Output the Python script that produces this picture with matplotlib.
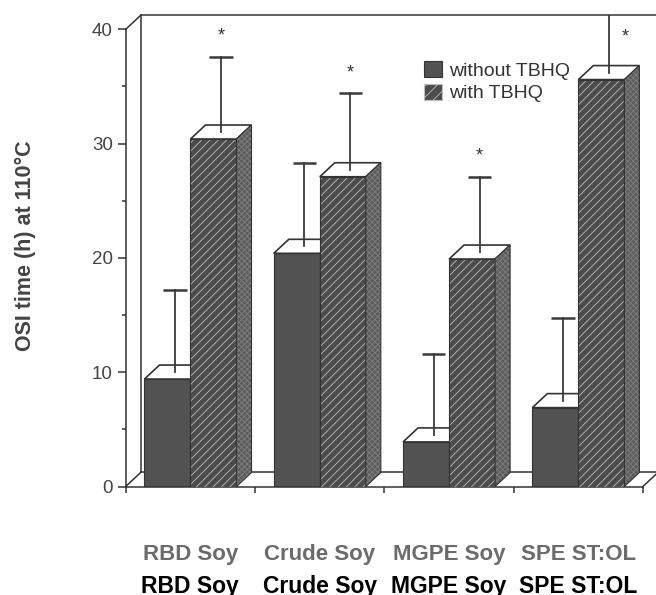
import matplotlib
matplotlib.use("Agg")
import matplotlib.pyplot as plt
from matplotlib.patches import Rectangle, Polygon, Patch

# ---------------------------------------------------------------------------
# DATA
# ---------------------------------------------------------------------------
categories = ["RBD Soy", "Crude Soy", "MGPE Soy", "SPE ST:OL"]
without_tbhq = [9.4, 20.4, 3.9, 6.9]
with_tbhq = [30.4, 27.1, 19.9, 35.6]
err_without = [7.2, 7.3, 7.1, 7.2]
err_with = [6.6, 6.7, 6.6, 7.5]
significant = [True, True, True, True]
series_names = ["without TBHQ", "with TBHQ"]
y_ticks = [0, 10, 20, 30, 40]

# ---------------------------------------------------------------------------
# STYLE
# ---------------------------------------------------------------------------
plt.rcParams["font.family"] = ["Liberation Sans", "DejaVu Sans"]
plt.rcParams["hatch.linewidth"] = 0.6

LINE = "#333333"
DARK = "#525252"
HATCH_BG = "#4c4c4c"
HATCH_FG = "#bdbdbd"
SIDE_BG = "#5c5c5c"
SIDE_FG = "#7e7e7e"

W = 0.356      # bar width (category units)
OFF = 0.145    # offset of first bar inside a category
DX = 0.116     # 3D depth, x
DY = 1.225     # 3D depth, y
Y_TOP = 40 + DY + 0.06

fig = plt.figure(figsize=(6.56, 5.95), dpi=100)
ax = fig.add_axes([125.7 / 656, 108.5 / 595, 530.3 / 656, Y_TOP * 11.43 / 595])
ax.set_xlim(0, 530.3 / 129.3)
ax.set_ylim(0, Y_TOP)

# axes / spines
for s in ["top", "right"]:
    ax.spines[s].set_visible(False)
ax.spines["left"].set_bounds(0, 40)
ax.spines["bottom"].set_bounds(0, len(categories))
for s in ["left", "bottom"]:
    ax.spines[s].set_color(LINE)
    ax.spines[s].set_linewidth(1.1)
ax.set_yticks(y_ticks)
ax.set_yticks([5, 15, 25, 35], minor=True)
ax.set_xticks(range(len(categories) + 1))
ax.tick_params(axis="y", which="major", length=5.8, width=1.1, color=LINE,
               pad=3.5, labelsize=13.5, labelcolor="#444444")
ax.tick_params(axis="y", which="minor", length=3, width=1.1, color=LINE)
ax.tick_params(axis="x", length=4.3, width=1.1, color=LINE, labelbottom=False)

# back wall and floor outline
n = len(categories)
kw = dict(color=LINE, lw=1.1, clip_on=False, zorder=1)
ax.plot([0, DX], [40, 40 + DY], **kw)
ax.plot([DX, 10], [40 + DY, 40 + DY], **kw)
ax.plot([DX, DX], [DY, 40 + DY], **kw)
ax.plot([0, DX], [0, DY], **kw)
ax.plot([DX, n + DX], [DY, DY], **kw)
ax.plot([n, n + DX], [0, DY], **kw)


def draw_top(x, v):
    ax.add_patch(Polygon([(x, v), (x + W, v), (x + W + DX, v + DY), (x + DX, v + DY)],
                         closed=True, fc="white", ec=LINE, lw=1.2, zorder=3))


def draw_err(x, v, e):
    xe = x + W / 2 + DX / 2
    y0 = v + DY / 2
    ax.plot([xe, xe], [y0, y0 + e], color="#3a3a3a", lw=1.3, zorder=5)
    ax.plot([xe - 0.09, xe + 0.09], [y0 + e, y0 + e], color="#3a3a3a",
            lw=1.8, zorder=5, solid_capstyle="butt")
    return xe, y0 + e


for i in range(n):
    x0 = i + OFF
    x1 = x0 + W
    v0 = without_tbhq[i]
    v1 = with_tbhq[i]

    # without TBHQ
    ax.add_patch(Rectangle((x0, 0), W, v0, fc=DARK, ec=LINE, lw=0.8, zorder=2))
    draw_top(x0, v0)

    # with TBHQ: front (hatched), side (stippled), top
    ax.add_patch(Rectangle((x1, 0), W, v1, fc=HATCH_BG, ec=HATCH_FG,
                           hatch="////", lw=0, zorder=4))
    ax.add_patch(Rectangle((x1, 0), W, v1, fill=False, ec=LINE, lw=0.8, zorder=4))
    side = [(x1 + W, 0), (x1 + W + DX, DY), (x1 + W + DX, v1 + DY), (x1 + W, v1)]
    ax.add_patch(Polygon(side, closed=True, fc=SIDE_BG, ec=SIDE_FG,
                         hatch="xxxxxx", lw=0, zorder=4))
    ax.add_patch(Polygon(side, closed=True, fill=False, ec=LINE, lw=0.8, zorder=4))
    draw_top(x1, v1)

    draw_err(x0, v0, err_without[i])
    xe, ytop = draw_err(x1, v1, err_with[i])

    if significant[i]:
        if ytop < 40:
            ax.text(xe, ytop + 1.8, "*", ha="center", va="center",
                    fontsize=13, color="#333333", zorder=6)
        else:
            ax.text(xe + 0.13, 39.3, "*", ha="center", va="center",
                    fontsize=13, color="#333333", zorder=6)

# category labels: two rows as in the reference (bottom row cut by the edge)
for i, name in enumerate(categories):
    ax.text(i + 0.5, -6.45, name, ha="center", va="baseline", fontsize=16,
            fontweight="bold", color="#6b6b6b", clip_on=False)
    ax.text(i + 0.5, -9.3, name, ha="center", va="baseline", fontsize=16.5,
            fontweight="bold", color="black", clip_on=False)

fig.text(25 / 656, 1 - 245.5 / 595, "OSI time (h) at 110°C", rotation=90,
         ha="center", va="center", fontsize=15.5, fontweight="bold",
         color="#444444")

handles = [Patch(fc=DARK, ec=LINE, lw=0.8),
           Patch(fc=HATCH_BG, ec=HATCH_FG, hatch="///", lw=0.8)]
ax.legend(handles, series_names, loc="upper left",
          bbox_to_anchor=(424 / 656, 1 - 61 / 595),
          bbox_transform=fig.transFigure, frameon=False, borderpad=0,
          borderaxespad=0, fontsize=14, handlelength=0.9, handleheight=0.9,
          handletextpad=0.4, labelspacing=0.2, labelcolor="#333333")

fig.savefig("out.png", dpi=100, facecolor="white")
